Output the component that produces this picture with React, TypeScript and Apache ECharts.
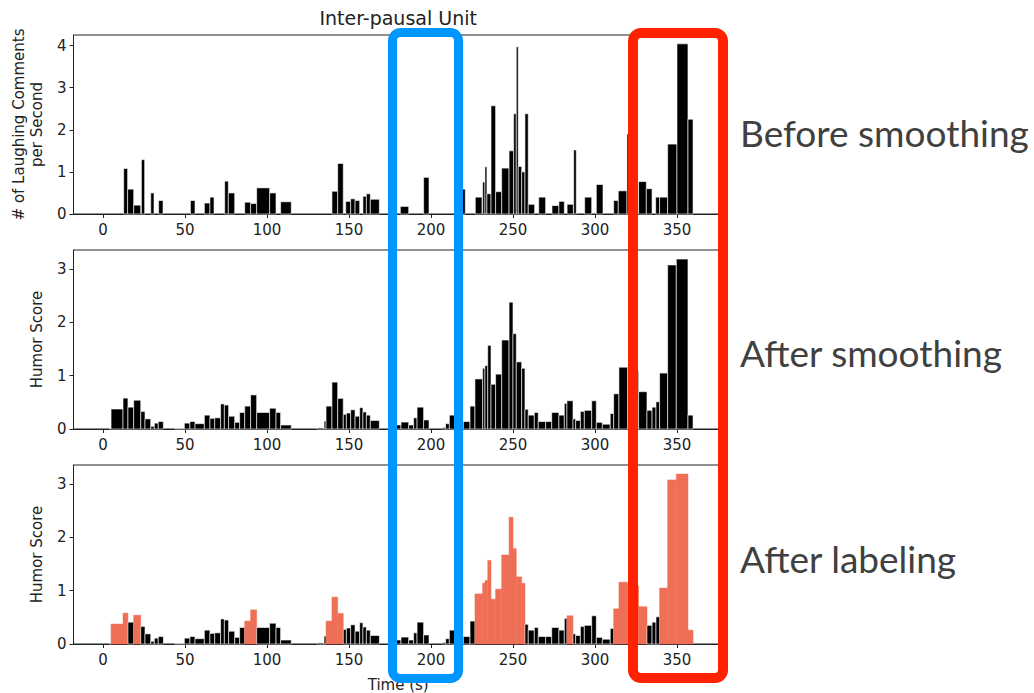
import React, { useEffect, useRef } from "react";
import * as echarts from "echarts";

// x tick labels (seconds)
const timeTicks = [0, 50, 100, 150, 200, 250, 300, 350];
const countTicks = [0, 1, 2, 3, 4];
const scoreTicks = [0, 1, 2, 3];

// Panel 1: raw number of laughing comments per second for each inter-pausal unit
const rawStart = [12.6, 15.0, 18.7, 23.4, 29.1, 33.9, 53.3, 61.8, 65.2, 74.2, 76.4, 86.4, 90.0, 93.7, 101.6, 108.3, 139.6, 143.1, 148.0, 151.0, 153.7, 158.5, 160.6, 163.0, 181.3, 195.5, 217.0, 227.0, 231.5, 232.9, 234.1, 236.6, 239.4, 243.1, 247.6, 250.4, 252.0, 253.2, 255.3, 257.3, 259.3, 265.7, 273.8, 278.0, 283.0, 287.0, 293.7, 300.8, 311.4, 314.2, 319.5, 326.6, 331.3, 337.0, 339.4, 344.3, 350.0, 356.7];
const rawEnd = [15.0, 18.7, 23.0, 25.4, 31.1, 36.6, 56.1, 65.2, 67.7, 76.4, 80.3, 90.0, 93.7, 101.6, 105.5, 114.8, 143.1, 146.5, 151.0, 153.7, 156.5, 160.6, 163.0, 168.5, 186.4, 198.8, 220.9, 231.1, 232.9, 234.1, 236.6, 239.4, 243.1, 247.6, 250.4, 252.0, 253.2, 255.3, 257.3, 259.3, 263.2, 269.9, 278.0, 281.3, 286.8, 288.6, 298.0, 304.9, 314.2, 319.5, 320.5, 331.3, 334.8, 339.4, 344.3, 350.0, 356.7, 359.8];
const rawCount = [1.08, 0.59, 0.21, 1.29, 0.50, 0.32, 0.32, 0.26, 0.40, 0.78, 0.50, 0.28, 0.25, 0.62, 0.50, 0.29, 0.54, 1.20, 0.30, 0.36, 0.32, 0.42, 0.48, 0.35, 0.18, 0.87, 0.59, 0.40, 0.76, 1.12, 0.48, 2.57, 0.53, 1.09, 1.50, 2.38, 3.97, 1.13, 1.00, 2.38, 0.23, 0.40, 0.20, 0.30, 0.23, 1.52, 0.40, 0.70, 0.32, 0.55, 1.90, 0.77, 0.60, 0.40, 0.40, 1.66, 4.04, 2.25];

// Panels 2 & 3: smoothed humor score per inter-pausal unit, and its label (1 = humorous)
const ipuStart = [3.9, 4.9, 12.2, 15.2, 18.7, 23.0, 25.6, 29.1, 31.3, 33.7, 43.7, 49.6, 53.0, 56.1, 61.8, 65.2, 68.1, 71.7, 74.0, 76.6, 80.3, 83.3, 86.4, 90.0, 93.7, 101.6, 105.5, 108.3, 130.5, 134.8, 136.0, 139.6, 143.1, 146.5, 148.4, 151.0, 153.7, 156.5, 158.5, 160.6, 163.0, 178.0, 181.7, 186.4, 189.4, 191.5, 195.5, 206.7, 208.9, 211.2, 219.7, 223.8, 226.8, 231.5, 232.9, 234.6, 236.6, 239.4, 243.1, 247.6, 250.0, 252.0, 255.3, 257.3, 259.3, 263.0, 265.4, 269.9, 273.6, 278.0, 281.3, 282.9, 286.6, 288.2, 291.1, 293.5, 298.0, 300.8, 304.5, 309.3, 311.4, 314.6, 319.9, 326.6, 331.7, 334.8, 337.2, 339.4, 344.3, 349.6, 356.7];
const ipuEnd = [4.9, 12.2, 15.2, 18.7, 23.0, 25.6, 29.1, 31.3, 33.7, 36.8, 49.6, 53.0, 56.1, 61.8, 65.2, 68.1, 71.7, 74.0, 76.6, 80.3, 83.3, 86.4, 90.0, 93.7, 101.6, 105.5, 108.3, 114.8, 134.8, 136.0, 139.6, 143.1, 146.5, 148.4, 151.0, 153.7, 156.5, 158.5, 160.6, 163.0, 168.5, 181.7, 186.4, 189.4, 191.5, 195.5, 198.8, 208.9, 211.2, 214.5, 223.8, 226.8, 231.5, 232.9, 234.6, 236.6, 239.4, 243.1, 247.6, 250.0, 252.0, 255.3, 257.3, 259.3, 263.0, 265.4, 269.9, 273.6, 278.0, 281.3, 282.9, 286.6, 288.2, 291.1, 293.5, 298.0, 300.8, 304.5, 309.3, 311.4, 314.6, 319.9, 326.6, 331.7, 334.8, 337.2, 339.4, 344.3, 349.6, 356.7, 359.8];
const humorScore = [0.01, 0.375, 0.58, 0.41, 0.54, 0.33, 0.19, 0.05, 0.11, 0.14, 0.01, 0.11, 0.14, 0.10, 0.26, 0.20, 0.21, 0.47, 0.45, 0.24, 0.125, 0.31, 0.43, 0.64, 0.31, 0.39, 0.31, 0.075, 0.02, 0.15, 0.43, 0.88, 0.575, 0.275, 0.30, 0.36, 0.24, 0.40, 0.32, 0.26, 0.16, 0.075, 0.13, 0.075, 0.21, 0.41, 0.17, 0.025, 0.10, 0.26, 0.14, 0.43, 0.94, 1.14, 1.19, 1.57, 0.84, 1.03, 1.67, 2.38, 1.79, 1.26, 1.14, 0.37, 0.26, 0.31, 0.14, 0.14, 0.31, 0.26, 0.48, 0.53, 0.19, 0.16, 0.33, 0.35, 0.53, 0.125, 0.09, 0.29, 0.66, 1.16, 1.09, 0.70, 0.35, 0.41, 0.51, 1.05, 3.08, 3.19, 0.26];
const humorLabel = [0, 1, 1, 0, 1, 0, 0, 0, 0, 0, 0, 0, 0, 0, 0, 0, 0, 0, 0, 0, 0, 0, 1, 1, 0, 0, 0, 0, 0, 0, 1, 1, 1, 0, 0, 0, 0, 0, 0, 0, 0, 0, 0, 0, 0, 0, 0, 0, 0, 0, 0, 0, 1, 1, 1, 1, 1, 1, 1, 1, 1, 1, 1, 0, 0, 0, 0, 0, 0, 0, 0, 1, 0, 0, 0, 0, 0, 0, 0, 0, 1, 1, 1, 1, 0, 0, 0, 1, 1, 1, 1];

const panelNames = ["Before smoothing", "After smoothing", "After labeling"];

const FONT = "DejaVu Sans";
const INK = "#222222";
const ORANGE = "#EE6F55";

export default function App() {
  const ref = useRef<HTMLDivElement>(null);

  useEffect(() => {
    const chart = echarts.init(ref.current!, null, { renderer: "svg" });

    const gridLeft = 73.5;
    const gridWidth = 649.4;
    const gridTops = [35, 250, 465];
    const gridHeight = 179;

    const makeRender = (colorByLabel: boolean) => (params: any, api: any) => {
      const x0 = api.value(0);
      const x1 = api.value(1);
      const v = api.value(2);
      const lab = api.value(3);
      const a = api.coord([x0, 0]);
      const b = api.coord([x1, v]);
      const humorous = colorByLabel && lab === 1;
      return {
        type: "rect",
        shape: { x: a[0], y: b[1], width: b[0] - a[0], height: a[1] - b[1] },
        style: humorous
          ? { fill: ORANGE, stroke: ORANGE, lineWidth: 0.5 }
          : { fill: "#000", stroke: "#ffffff", lineWidth: 0.6 },
      };
    };

    const xAxisBase = (i: number) => ({
      gridIndex: i,
      type: "value",
      min: -18,
      max: 378,
      axisLine: { show: true, onZero: false, lineStyle: { color: INK, width: 1 } },
      axisTick: { show: true, length: 4, customValues: timeTicks, lineStyle: { color: INK } },
      axisLabel: { customValues: timeTicks, fontSize: 15, color: INK, margin: 8, fontFamily: FONT },
      splitLine: { show: false },
    });

    const yAxisBase = (i: number, max: number, ticks: number[], name: string) => ({
      gridIndex: i,
      type: "value",
      min: 0,
      max,
      name,
      nameLocation: "middle",
      nameRotate: 90,
      nameGap: 27,
      nameTextStyle: { fontSize: 15, color: INK, fontFamily: FONT, lineHeight: 18 },
      axisLine: { show: true, onZero: false, lineStyle: { color: INK, width: 1 } },
      axisTick: { show: true, length: 4, customValues: ticks, lineStyle: { color: INK } },
      axisLabel: { customValues: ticks, fontSize: 15, color: INK, margin: 7, fontFamily: FONT },
      splitLine: { show: false },
    });

    const rawData = rawStart.map((s, i) => [s, rawEnd[i], rawCount[i], 0]);
    const scoreData = ipuStart.map((s, i) => [s, ipuEnd[i], humorScore[i], humorLabel[i]]);

    const bottomX: any = xAxisBase(2);
    bottomX.name = "Time (s)";
    bottomX.nameLocation = "middle";
    bottomX.nameGap = 33;
    bottomX.nameTextStyle = { fontSize: 15, color: INK, fontFamily: FONT };

    const labelY = [132, 352, 558];

    chart.setOption({
      animation: false,
      textStyle: { fontFamily: FONT },
      grid: gridTops.map((t) => ({
        left: gridLeft,
        top: t,
        width: gridWidth,
        height: gridHeight,
        show: true,
        borderColor: INK,
        borderWidth: 1,
        backgroundColor: "transparent",
        outerBoundsMode: "none",
        containLabel: false,
      })),
      xAxis: [xAxisBase(0), xAxisBase(1), bottomX],
      yAxis: [
        yAxisBase(0, 4.25, countTicks, "# of Laughing Comments\nper Second"),
        yAxisBase(1, 3.36, scoreTicks, "Humor Score"),
        yAxisBase(2, 3.36, scoreTicks, "Humor Score"),
      ],
      series: [
        {
          type: "custom",
          xAxisIndex: 0,
          yAxisIndex: 0,
          renderItem: makeRender(false),
          encode: { x: [0, 1], y: 2 },
          data: rawData,
        },
        {
          type: "custom",
          xAxisIndex: 1,
          yAxisIndex: 1,
          renderItem: makeRender(false),
          encode: { x: [0, 1], y: 2 },
          data: scoreData,
        },
        {
          type: "custom",
          xAxisIndex: 2,
          yAxisIndex: 2,
          renderItem: makeRender(true),
          encode: { x: [0, 1], y: 2 },
          data: scoreData,
        },
      ],
      graphic: [
        {
          type: "text",
          x: gridLeft + gridWidth / 2,
          y: 18,
          style: {
            text: "Inter-pausal Unit",
            fontSize: 19,
            fontFamily: FONT,
            fill: INK,
            textAlign: "center",
            textVerticalAlign: "middle",
          },
        },
        ...panelNames.map((n, i) => ({
          type: "text",
          x: 740,
          y: labelY[i],
          style: {
            text: n,
            fontSize: 37,
            fontFamily: "Lato",
            fill: "#404040",
            textAlign: "left",
            textVerticalAlign: "middle",
          },
        })),
        {
          type: "rect",
          z: 100,
          shape: { x: 392.5, y: 32.5, width: 66, height: 646, r: 8 },
          style: { fill: "none", stroke: "#0096FF", lineWidth: 9 },
        },
        {
          type: "rect",
          z: 100,
          shape: { x: 633, y: 33, width: 90, height: 645, r: 8 },
          style: { fill: "none", stroke: "#FF2200", lineWidth: 10 },
        },
      ],
    });

    return () => chart.dispose();
  }, []);

  return (
    <div
      ref={ref}
      style={{ position: "absolute", left: 0, top: 0, width: 1034, height: 693, background: "#fff" }}
    />
  );
}
